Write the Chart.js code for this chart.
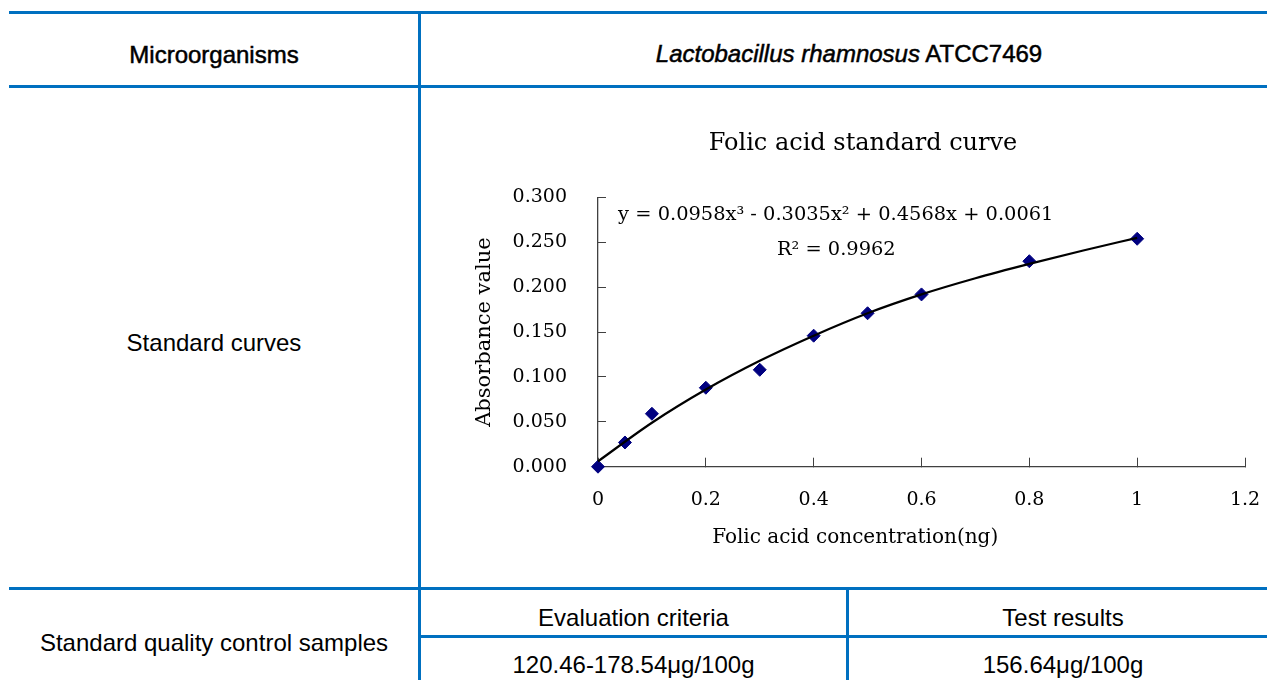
<!DOCTYPE html>
<html>
<head>
<meta charset="utf-8">
<script src="https://cdn.jsdelivr.net/npm/chart.js@4"></script>
<style>
  html, body { margin: 0; padding: 0; background: #fff; }
  #page { position: relative; width: 1267px; height: 680px; overflow: hidden; font-family: "Liberation Sans", Arial, sans-serif; font-size: 24px; color: #000; }
  .hl, .vl { position: absolute; background: #0070c0; }
  .cell { position: absolute; line-height: 24px; text-align: center; white-space: nowrap; }
  .head { -webkit-text-stroke: 0.5px #000; }
  #chartBox { position: absolute; left: 430px; top: 100px; width: 865px; height: 480px; }
</style>
</head>
<body>
<div id="page">
  <!-- table rules -->
  <div class="hl" style="left:9px; right:0; top:11px; height:3px;"></div>
  <div class="hl" style="left:9px; right:0; top:85px; height:3px;"></div>
  <div class="hl" style="left:9px; right:0; top:586.5px; height:3px;"></div>
  <div class="hl" style="left:419px; right:0; top:634.5px; height:3px;"></div>
  <div class="vl" style="left:418px; top:11px; bottom:0; width:3px;"></div>
  <div class="vl" style="left:846px; top:588px; bottom:0; width:3px;"></div>

  <!-- table text -->
  <div class="cell head" style="left:9px; width:410px; top:42.5px;">Microorganisms</div>
  <div class="cell head" style="left:421px; width:856px; top:42px;"><i>Lactobacillus rhamnosus</i> ATCC7469</div>
  <div class="cell" style="left:9px; width:410px; top:330.5px;">Standard curves</div>
  <div class="cell" style="left:9px; width:410px; top:630.5px;">Standard quality control samples</div>
  <div class="cell" style="left:421px; width:425px; top:605.5px;">Evaluation criteria</div>
  <div class="cell" style="left:849px; width:428px; top:605.5px;">Test results</div>
  <div class="cell" style="left:421px; width:425px; top:652.5px;">120.46-178.54μg/100g</div>
  <div class="cell" style="left:849px; width:428px; top:652.5px;">156.64μg/100g</div>

  <div id="chartBox"><canvas id="myChart" width="865" height="480"></canvas></div>
</div>

<script>
// measured points (folic acid ng vs absorbance)
const concentration = [0, 0.05, 0.1, 0.2, 0.3, 0.4, 0.5, 0.6, 0.8, 1.0];
const absorbance = [0.000, 0.027, 0.059, 0.088, 0.108, 0.146, 0.171, 0.192, 0.229, 0.254];

// polynomial trendline
const trendX = [0, 0.1, 0.2, 0.3, 0.4, 0.5, 0.6, 0.7, 0.8, 0.9, 1.0];
const trendY = [0.006, 0.049, 0.086, 0.118, 0.146, 0.171, 0.192, 0.210, 0.226, 0.241, 0.255];

// tick labels
const xTickLabels = ["0", "0.2", "0.4", "0.6", "0.8", "1", "1.2"];
const yTickLabels = ["0.000", "0.050", "0.100", "0.150", "0.200", "0.250", "0.300"];

const equationText = "y = 0.0958x³ - 0.3035x² + 0.4568x + 0.0061";
const r2Text = "R² = 0.9962";
const xTitleText = "Folic acid concentration(ng)";

const serif = "'DejaVu Serif', 'Liberation Serif', serif";
const ink = "#000";
const axisColor = "#404040";

// trendline equation + x title (the x title sits left of the plot centre, like Excel does it)
const chartTexts = {
  id: "chartTexts",
  afterDraw(chart) {
    const { ctx, scales, chartArea } = chart;
    ctx.save();
    ctx.fillStyle = ink;
    ctx.textAlign = "center";
    ctx.textBaseline = "middle";
    ctx.font = "19.4px " + serif;
    ctx.fillText(equationText, scales.x.getPixelForValue(0.441), scales.y.getPixelForValue(0.281));
    ctx.fillText(r2Text, scales.x.getPixelForValue(0.442), scales.y.getPixelForValue(0.242));
    ctx.font = "20px " + serif;
    ctx.fillText(xTitleText, scales.x.getPixelForValue(0.477), chartArea.bottom + 71);
    ctx.restore();
  },
};

const ctx = document.getElementById("myChart");

new Chart(ctx, {
  type: "scatter",
  data: {
    datasets: [
      {
        // trendline first so it sits on top of the markers
        type: "line",
        data: trendX.map((x, i) => ({ x: x, y: trendY[i] })),
        borderColor: "#000",
        borderWidth: 2.2,
        pointRadius: 0,
        cubicInterpolationMode: "monotone",
        fill: false,
        clip: false,
      },
      {
        data: concentration.map((x, i) => ({ x: x, y: absorbance[i] })),
        pointStyle: "rectRot",
        pointRadius: 6.5,
        backgroundColor: "#000080",
        borderColor: "#000080",
        borderWidth: 1,
        clip: false,
      },
    ],
  },
  options: {
    responsive: false,
    animation: false,
    layout: { padding: { left: 51, right: 50, top: 0, bottom: 0 } },
    plugins: {
      legend: { display: false },
      tooltip: { enabled: false },
      title: {
        display: true,
        text: "Folic acid standard curve",
        color: ink,
        font: { family: serif, size: 24, weight: "normal" },
        padding: { top: 29.1, bottom: 39.6 },
      },
    },
    scales: {
      x: {
        type: "linear",
        min: 0,
        max: 1.2,
        ticks: {
          stepSize: 0.2,
          color: ink,
          font: { family: serif, size: 19 },
          padding: 31,
          callback: (v, i) => xTickLabels[i],
        },
        grid: { drawOnChartArea: false, tickLength: -9, color: axisColor },
        border: { color: axisColor, width: 1.3 },
        afterFit: (scale) => { scale.height = 113.3; },
      },
      y: {
        type: "linear",
        min: 0,
        max: 0.3,
        ticks: {
          stepSize: 0.05,
          color: ink,
          font: { family: serif, size: 19 },
          padding: 39,
          callback: (v, i) => yTickLabels[i],
        },
        grid: { drawOnChartArea: false, tickLength: -8, color: axisColor },
        border: { color: axisColor, width: 1.3 },
        title: {
          display: true,
          text: "Absorbance value",
          color: ink,
          font: { family: serif, size: 21 },
          padding: { top: -9 },
        },
        afterFit: (scale) => { scale.width = 117; },
      },
    },
  },
  plugins: [chartTexts],
});
</script>
</body>
</html>
